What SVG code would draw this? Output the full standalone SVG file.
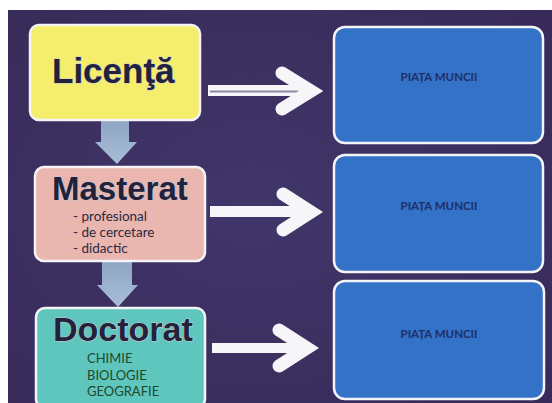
<svg xmlns="http://www.w3.org/2000/svg" width="552" height="403" viewBox="0 0 552 403">
  <defs>
    <radialGradient id="bg" cx="0.45" cy="0.5" r="0.75">
      <stop offset="0" stop-color="#41366a"/>
      <stop offset="1" stop-color="#372a58"/>
    </radialGradient>
    <linearGradient id="down" x1="0" y1="0" x2="0" y2="1">
      <stop offset="0" stop-color="#8ea6c4"/>
      <stop offset="1" stop-color="#a9bdd6"/>
    </linearGradient>
  </defs>
  <style>
    .box { stroke: #f4f4f8; stroke-width: 2.5; }
    .blue { fill: #3372c6; }
    .head { font-family: "Liberation Sans", Arial, sans-serif; font-weight: bold; fill: #22223a; stroke: #c9c6d4; stroke-width: 1.2; paint-order: stroke; }
    .sub { font-family: Lato, "Open Sans", sans-serif; font-size: 13.5px; fill: #2b2a3c; }
    .subg { font-family: Lato, "Open Sans", sans-serif; font-size: 13px; fill: #22482a; }
    .pm { font-family: Lato, "Open Sans", sans-serif; font-size: 11.5px; font-weight: bold; fill: #1f2f68; text-anchor: middle; }
    .rarrow { fill: none; stroke: #f6f6f8; }
  </style>
  <rect x="0" y="0" width="552" height="403" fill="#ffffff"/>
  <rect x="8" y="10" width="544" height="393" fill="url(#bg)"/>

  <g id="connectors">
    <!-- down arrows -->
    <polygon points="101,121 129,121 129,142 137,142 117,164 95,142 101,142" fill="url(#down)"/>
    <polygon points="102,262 132,262 132,285 138,285 118,307 97,285 102,285" fill="url(#down)"/>
    <!-- right arrow 1 (double line shaft) -->
    <rect x="208" y="85" width="104" height="11" fill="#f6f6f8"/>
    <line x1="210" y1="91.5" x2="300" y2="91.5" stroke="#8a88a0" stroke-width="2"/>
    <polyline class="rarrow" points="282,73 311,91 282,109" stroke-width="13" stroke-linecap="round"/>
    <!-- right arrow 2 -->
    <rect x="210" y="206" width="102" height="11" fill="#f6f6f8"/>
    <polyline class="rarrow" points="283,194 311,212 283,230" stroke-width="13" stroke-linecap="round"/>
    <!-- right arrow 3 -->
    <rect x="212" y="343" width="96" height="10" fill="#f6f6f8"/>
    <polyline class="rarrow" points="279,330 307,348 279,366" stroke-width="13" stroke-linecap="round"/>
  </g>

  <g id="licenta">
    <rect class="box" x="30" y="25" width="170" height="95" rx="9" fill="#f5ee6c"/>
    <text class="head" x="52" y="83" font-size="35">Licenţă</text>
  </g>

  <g id="masterat">
    <rect class="box" x="35" y="167" width="170" height="94" rx="9" fill="#eab6b0"/>
    <text class="head" x="52" y="200" font-size="33">Masterat</text>
    <text class="sub" x="73" y="221">- profesional</text>
    <text class="sub" x="73" y="237">- de cercetare</text>
    <text class="sub" x="73" y="253">- didactic</text>
  </g>

  <g id="doctorat">
    <rect class="box" x="36" y="308" width="169" height="100" rx="9" fill="#5ec6bd"/>
    <text class="head" x="53" y="341" font-size="34" fill="#1e3050">Doctorat</text>
    <text class="subg" x="87" y="363">CHIMIE</text>
    <text class="subg" x="87" y="380">BIOLOGIE</text>
    <text class="subg" x="87" y="396">GEOGRAFIE</text>
  </g>

  <g id="piata1">
    <rect class="box blue" x="334" y="27" width="209" height="116" rx="11"/>
    <text class="pm" x="439" y="81">PIAȚA MUNCII</text>
  </g>
  <g id="piata2">
    <rect class="box blue" x="334" y="155" width="209" height="117" rx="11"/>
    <text class="pm" x="439" y="210">PIAȚA MUNCII</text>
  </g>
  <g id="piata3">
    <rect class="box blue" x="334" y="281" width="210" height="118" rx="11"/>
    <text class="pm" x="439" y="338">PIAȚA MUNCII</text>
  </g>
</svg>
